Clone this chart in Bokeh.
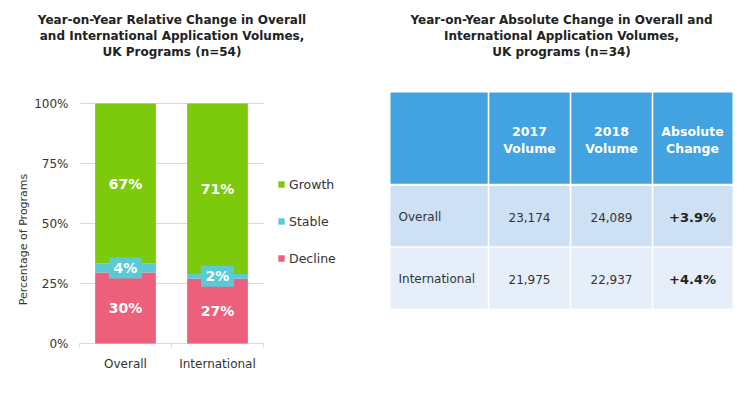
import numpy as np
from bokeh.plotting import figure
from bokeh.models import (Range1d, FixedTicker, LinearAxis, Grid,
                          Legend, LegendItem, ColumnDataSource)
from bokeh.core.properties import value
from bokeh.embed import file_html
from bokeh.resources import INLINE

# ---------------- data ----------------
categories = ["Overall", "International"]
series = ["Decline", "Stable", "Growth"]
decline = [29.6, 27.0]
stable = [3.7, 2.0]
growth = [66.7, 71.0]
y_ticks = [0, 25, 50, 75, 100]
y_tick_labels = ["0%", "25%", "50%", "75%", "100%"]
y_label = "Percentage of Programs"

table_rows = ["Overall", "International"]
vol_2017 = [23174, 21975]
vol_2018 = [24089, 22937]
table_headers = ["", "2017\nVolume", "2018\nVolume", "Absolute\nChange"]

left_title = ["Year-on-Year Relative Change in Overall",
              "and International Application Volumes,",
              "UK Programs (n=54)"]
right_title = ["Year-on-Year Absolute Change in Overall and",
               "International Application Volumes,",
               "UK programs (n=34)"]

# ---------------- styles / layout ----------------
FONT = "DejaVu Sans"
colors = ["#EC607B", "#5CC9D6", "#7DC90C"]
TXT = "#333333"
TITLE_C = "#222222"
GRID_C = "#D9D9D9"
W, H = 750, 406
PX_ZERO = 343        # canvas y of the 0% line (x axis)
PX_FB = 349          # bottom of the frame, canvas pixels
X0 = 79              # canvas x of the left edge of the category band
UNIT = 92.0          # pixels per category
PCT = 2.4            # pixels per percent

p = figure(width=W, height=H, output_backend="svg", toolbar_location=None, title=None,
           x_range=Range1d(-X0 / UNIT, (W - X0) / UNIT),
           y_range=Range1d(-(PX_FB - PX_ZERO) / PCT, PX_ZERO / PCT),
           x_axis_type=None, y_axis_type=None,
           min_border_left=0, min_border_right=0, min_border_top=0,
           min_border_bottom=H - PX_FB)
p.outline_line_color = None
p.extra_x_ranges = {"px": Range1d(0, W)}
p.extra_y_ranges = {"px": Range1d(PX_FB, 0)}

ncat = len(categories)
xs = [i + 0.5 for i in range(ncat)]

# ---- grid (the 0% line doubles as the axis line) ----
grid = Grid(dimension=1, ticker=FixedTicker(ticks=y_ticks), grid_line_color=GRID_C)
grid.cross_bounds = (0, ncat)
p.add_layout(grid, "center")

# ---- bars ----
src = ColumnDataSource(dict(x=xs, Decline=decline, Stable=stable, Growth=growth))
renderers = p.vbar_stack(series, x="x", width=0.66, color=colors, line_color=None, source=src)

# ---- x axis (labels + boundary ticks) ----
xax = LinearAxis(ticker=FixedTicker(ticks=xs, minor_ticks=list(range(ncat + 1))), bounds=(0, ncat))
xax.major_label_overrides = {x: c for x, c in zip(xs, categories)}
xax.axis_line_color = None
xax.major_tick_line_color = None
xax.major_tick_out = 0
xax.major_tick_in = 0
xax.minor_tick_line_color = GRID_C
xax.minor_tick_in = PX_FB - PX_ZERO
xax.minor_tick_out = -2
xax.major_label_standoff = 7
xax.major_label_text_font = FONT
xax.major_label_text_font_size = "12px"
xax.major_label_text_color = TXT
p.add_layout(xax, "below")

# ---- y tick labels (placed on the percent scale) and axis title ----
p.text(x=[68] * len(y_ticks), y=y_ticks, text=y_tick_labels, x_range_name="px",
       text_color=TXT, text_font=value(FONT), text_font_size="12px",
       text_align="right", text_baseline="middle")
p.text(x=[23], y=[239], text=[y_label], x_range_name="px", y_range_name="px", angle=np.pi / 2,
       text_color=TXT, text_font=value(FONT), text_font_size="11px",
       text_align="center", text_baseline="middle")

# ---- segment labels ----
d = np.array(decline); s = np.array(stable); g = np.array(growth)
lab_x, lab_y, lab_t = [], [], []
for i in range(ncat):
    mids = [d[i] / 2, d[i] + s[i] / 2, d[i] + s[i] + g[i] / 2]
    for m, v in zip(mids, [d[i], s[i], g[i]]):
        lab_x.append(xs[i]); lab_y.append(m); lab_t.append(f"{round(v):d}%")
st_y = [d[i] + s[i] / 2 for i in range(ncat)]
p.rect(x=xs, y=st_y, width=33, height=21, width_units="screen", height_units="screen",
       fill_color=colors[1], line_color=None)
p.text(x=lab_x, y=lab_y, text=lab_t, text_color="white", text_font=value(FONT),
       text_font_size="14px", text_font_style="bold", text_align="center", text_baseline="middle")

# ---- legend ----
legend = Legend(items=[LegendItem(label=series[k], renderers=[renderers[k]]) for k in (2, 1, 0)],
                location=(277, PX_FB - 268), glyph_width=8, glyph_height=8, label_height=20,
                spacing=17, padding=0, margin=0, border_line_color=None,
                background_fill_alpha=0, label_text_font=FONT, label_text_font_size="12.5px",
                label_text_color=TXT, label_standoff=4)
p.add_layout(legend, "center")

# ---- titles ----
title_y = [19, 35, 51]
p.text(x=[171.5] * 3 + [561] * 3, y=title_y * 2, text=left_title + right_title,
       x_range_name="px", y_range_name="px",
       text_color=TITLE_C, text_font=value(FONT), text_font_size="12px", text_font_style="bold",
       text_align="center", text_baseline="middle")

# ---- table ----
col_edges = [390, 488, 570, 652, 732]
row_edges = [92, 184, 246.5, 308]
row_colors = ["#42A3E0", "#CDE0F4", "#E6EFF9"]
gap = 0.8
L, R, T, B, C = [], [], [], [], []
for ri in range(3):
    for ci in range(4):
        L.append(col_edges[ci] + (gap if ci > 0 else 0))
        R.append(col_edges[ci + 1] - (gap if ci < 3 else 0))
        T.append(row_edges[ri] + (gap * (2 if ri == 1 else 1) if ri > 0 else 0))
        B.append(row_edges[ri + 1] - (gap if ri < 2 else 0))
        C.append(row_colors[ri])
p.quad(left=L, right=R, top=T, bottom=B, fill_color=C, line_color=None,
       x_range_name="px", y_range_name="px")

col_c = [(col_edges[i] + col_edges[i + 1]) / 2 for i in range(4)]
hx, hy, ht = [], [], []
for ci in range(1, 4):
    for li, line in enumerate(table_headers[ci].split("\n")):
        hx.append(col_c[ci]); hy.append(131 + 17 * li); ht.append(line)
p.text(x=hx, y=hy, text=ht, x_range_name="px", y_range_name="px", text_color="white",
       text_font=value(FONT), text_font_size="12.5px", text_font_style="bold",
       text_align="center", text_baseline="middle")

row_y = [216.5, 278.5]
p.text(x=[398] * 2, y=row_y, text=table_rows, x_range_name="px", y_range_name="px",
       text_color=TXT, text_font=value(FONT), text_font_size="12px",
       text_align="left", text_baseline="middle")
nx, ny, nt = [], [], []
for ri in range(2):
    nx += [col_c[1], col_c[2]]; ny += [row_y[ri]] * 2
    nt += [f"{vol_2017[ri]:,}", f"{vol_2018[ri]:,}"]
p.text(x=nx, y=ny, text=nt, x_range_name="px", y_range_name="px", text_color=TXT,
       text_font=value(FONT), text_font_size="12px", text_align="center", text_baseline="middle")
chg = [f"+{(b - a) / a * 100:.1f}%" for a, b in zip(vol_2017, vol_2018)]
p.text(x=[col_c[3]] * 2, y=row_y, text=chg, x_range_name="px", y_range_name="px",
       text_color=TITLE_C, text_font=value(FONT), text_font_size="13px", text_font_style="bold",
       text_align="center", text_baseline="middle")

open("out.html", "w").write(file_html(p, INLINE))
